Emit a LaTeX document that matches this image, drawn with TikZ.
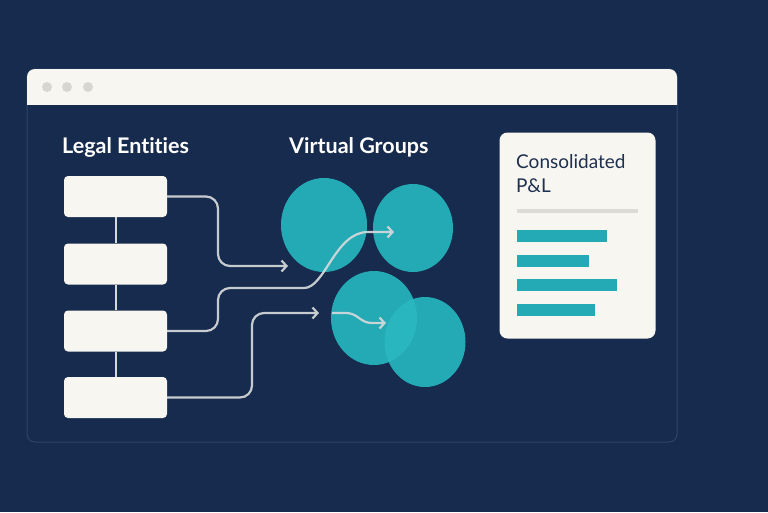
\documentclass[tikz,border=0pt]{standalone}
\usepackage{fontspec}
\setmainfont{Lato}[Ligatures={NoCommon,NoContextual}, RawFeature={-liga;-dlig;-calt}]
\usetikzlibrary{arrows.meta,shapes.geometric}
\definecolor{navy}{HTML}{162B4D}
\definecolor{cream}{HTML}{F8F6F1}
\definecolor{winline}{HTML}{2E4569}
\definecolor{dotgrey}{HTML}{D7D6D3}
\definecolor{teal}{HTML}{24AAB4}
\definecolor{tealhi}{HTML}{2AB6BF}
\definecolor{linegrey}{HTML}{D6D9DC}
\definecolor{cardtext}{HTML}{1E3050}
\definecolor{rulegrey}{HTML}{DCDBD8}
\tikzset{
  lebox/.style={fill=cream, rounded corners=4pt, minimum width=103pt, minimum height=41pt, inner sep=0pt},
  grp/.style={ellipse, fill=teal, inner sep=0pt},
  conn/.style={draw=linegrey, line width=2.2pt, opacity=0.92, -{Straight Barb[length=5pt,width=11pt,line width=2.2pt]}},
  vline/.style={draw=linegrey, line width=2pt},
  heading/.style={text=white, font=\fontsize{21.5}{24}\selectfont\bfseries, anchor=west, inner sep=0pt},
  bar/.style={fill=teal},
  tdot/.style={circle, fill=dotgrey, minimum size=10pt, inner sep=0pt}
}
\begin{document}
\begin{tikzpicture}[x=1pt,y=-1pt]
\fill[navy] (0,0) rectangle (768,512);
\useasboundingbox (0,0) rectangle (768,512);
% window
\draw[winline, line width=1pt, rounded corners=8pt] (27,69) rectangle (677,442);
\begin{scope}
\clip (26,68) rectangle (678,104);
\fill[cream, rounded corners=8pt] (27,69) rectangle (677,130);
\end{scope}
\node[tdot] (d1) at (47,87) {};
\node[tdot] (d2) at (67,87) {};
\node[tdot] (d3) at (88,87) {};
% headings
\node[heading] (hle) at (62,147) {Legal Entities};
\node[heading] (hvg) at (289,147) {Virtual Groups};
% legal entity boxes
\node[lebox] (le1) at (115.5,196.5) {};
\node[lebox] (le2) at (115.5,264) {};
\node[lebox] (le3) at (115.5,331) {};
\node[lebox] (le4) at (115.5,397.5) {};
\draw[vline] (le1.south) -- (le2.north);
\draw[vline] (le2.south) -- (le3.north);
\draw[vline] (le3.south) -- (le4.north);
% virtual groups
\node[grp, minimum width=86pt, minimum height=94pt] (g1) at (324,225) {};
\node[grp, minimum width=80pt, minimum height=88pt] (g2) at (413,228) {};
\node[grp, minimum width=86pt, minimum height=94pt] (g3) at (374,318) {};
\node[grp, minimum width=81pt, minimum height=90pt] (g4) at (425,342) {};
\begin{scope}
\clip (374,318) ellipse [x radius=43, y radius=47];
\fill[tealhi] (425,342) ellipse [x radius=40.5, y radius=45];
\end{scope}
% arrow ends
\coordinate (a1) at (288,266);
\coordinate (a2) at (394,232);
\coordinate (a3) at (319,313);
\coordinate (s4) at (332,313);
\coordinate (a4) at (386,323);
% connectors
\draw[conn, rounded corners=12pt] (le1.east) -- (218,196.5) -- (218,266) -- (a1);
\draw[conn] (le3.east) [rounded corners=12pt] -- (218,331) -- (218,288) -- (292,288) [sharp corners] .. controls (325,288) and (335,232) .. (368,232) -- (a2);
\draw[conn, rounded corners=12pt] (le4.east) -- (252,397.5) -- (252,313) -- (a3);
\draw[conn] (s4) -- (346,313) .. controls (358,313) and (360,323) .. (372,323) -- (a4);
% card
\node[fill=cream, rounded corners=8pt, minimum width=156pt, minimum height=206pt, inner sep=0pt] (card) at (577.5,235.5) {};
\node[text=cardtext, font=\fontsize{19}{24}\selectfont, anchor=base west, align=left, inner sep=0pt] (ctitle) at (516,192) {Consolidated\\P\&L};
\fill[rulegrey] (517,209) rectangle (638,213);
\fill[bar] (517,230) rectangle (607,242);
\fill[bar] (517,255) rectangle (589,267);
\fill[bar] (517,279) rectangle (617,291);
\fill[bar] (517,304) rectangle (595,316);
\end{tikzpicture}
\end{document}
